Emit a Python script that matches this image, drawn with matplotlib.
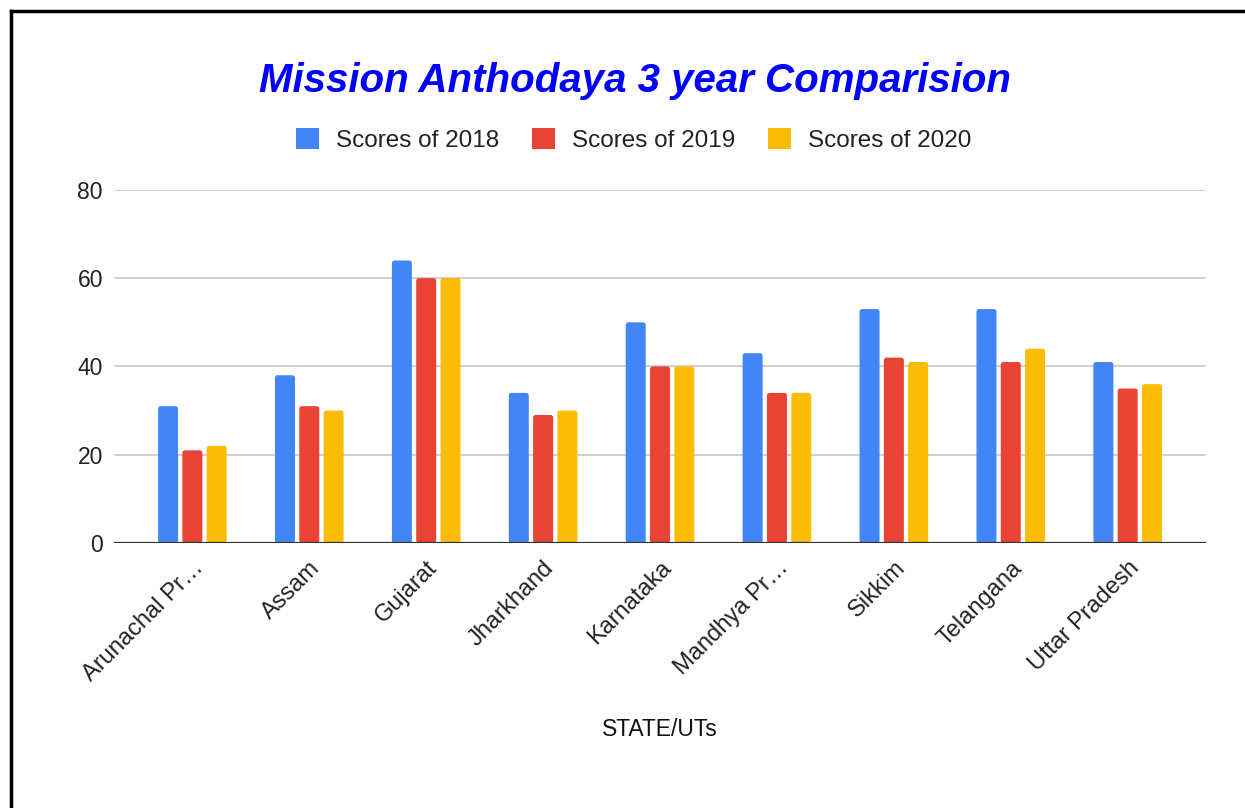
import matplotlib.pyplot as plt
import numpy as np
from matplotlib.patches import Patch, FancyBboxPatch
from matplotlib.lines import Line2D

states = ['Arunachal Pr…', 'Assam', 'Gujarat', 'Jharkhand', 'Karnataka',
          'Mandhya Pr…', 'Sikkim', 'Telangana', 'Uttar Pradesh']
scores_2018 = [31, 38, 64, 34, 50, 43, 53, 53, 41]
scores_2019 = [21, 31, 60, 29, 40, 34, 42, 41, 35]
scores_2020 = [22, 30, 60, 30, 40, 34, 41, 44, 36]
series_names = ['Scores of 2018', 'Scores of 2019', 'Scores of 2020']
colors = ['#4285F4', '#EA4335', '#FBBC04']

plt.rcParams['font.family'] = ['Liberation Sans', 'DejaVu Sans']

fig = plt.figure(figsize=(12.45, 8.08), dpi=100)
ax = fig.add_axes([0.0916, 0.328, 0.8771, 0.437])

x = np.arange(len(states))
pitch = 0.208
width = 0.171
for i, (vals, c) in enumerate(zip([scores_2018, scores_2019, scores_2020], colors)):
    bars = ax.bar(x + (i - 1) * pitch, vals, width, color=c, zorder=3)
    # swap the plain rectangles for slightly rounded ones
    for b in bars:
        rb = FancyBboxPatch((b.get_x(), b.get_y()), b.get_width(), b.get_height(),
                            boxstyle='round,pad=0,rounding_size=0.022',
                            mutation_aspect=26.5, facecolor=c, edgecolor='none',
                            zorder=3)
        b.set_visible(False)
        ax.add_patch(rb)

ax.set_ylim(0, 80)
ax.set_xlim(-0.67, len(states) - 1 + 0.67)
ax.set_yticks([0, 20, 40, 60, 80])
ax.yaxis.grid(True, color='#cccccc', linewidth=1.3, zorder=0)
ax.axhline(0, color='#333333', linewidth=1.6, zorder=4)
for s in ax.spines.values():
    s.set_visible(False)
ax.tick_params(axis='y', length=0, pad=8, labelsize=16.5, labelcolor='#222222')
ax.tick_params(axis='x', length=0, pad=10, labelsize=17, labelcolor='#222222')
ax.set_xticks(x)
ax.set_xticklabels(states, rotation=45, ha='right', va='top',
                   rotation_mode='anchor')

fig.text(0.51, 0.9, 'Mission Anthodaya 3 year Comparision', ha='center',
         va='center', fontsize=29, fontweight='bold', fontstyle='italic',
         color='#0000FF')

handles = [Patch(facecolor=c, edgecolor='none') for c in colors]
fig.legend(handles, series_names, loc='center', bbox_to_anchor=(0.509, 0.827),
           ncol=3, frameon=False, fontsize=17.5, handlelength=0.95,
           handleheight=0.95, handletextpad=0.7, columnspacing=1.35,
           labelcolor='#222222')

fig.text(0.530, 1 - 729 / 808, 'STATE/UTs', ha='center', va='center',
         fontsize=16.5, color='#111111')

# border lines on left and top
fig.add_artist(Line2D([0.0088, 0.0088], [0, 0.9864], transform=fig.transFigure,
                      color='black', linewidth=2.5))
fig.add_artist(Line2D([0.0088, 1], [0.9864, 0.9864], transform=fig.transFigure,
                      color='black', linewidth=2.5))

fig.savefig('out.png', dpi=100, facecolor='white')
